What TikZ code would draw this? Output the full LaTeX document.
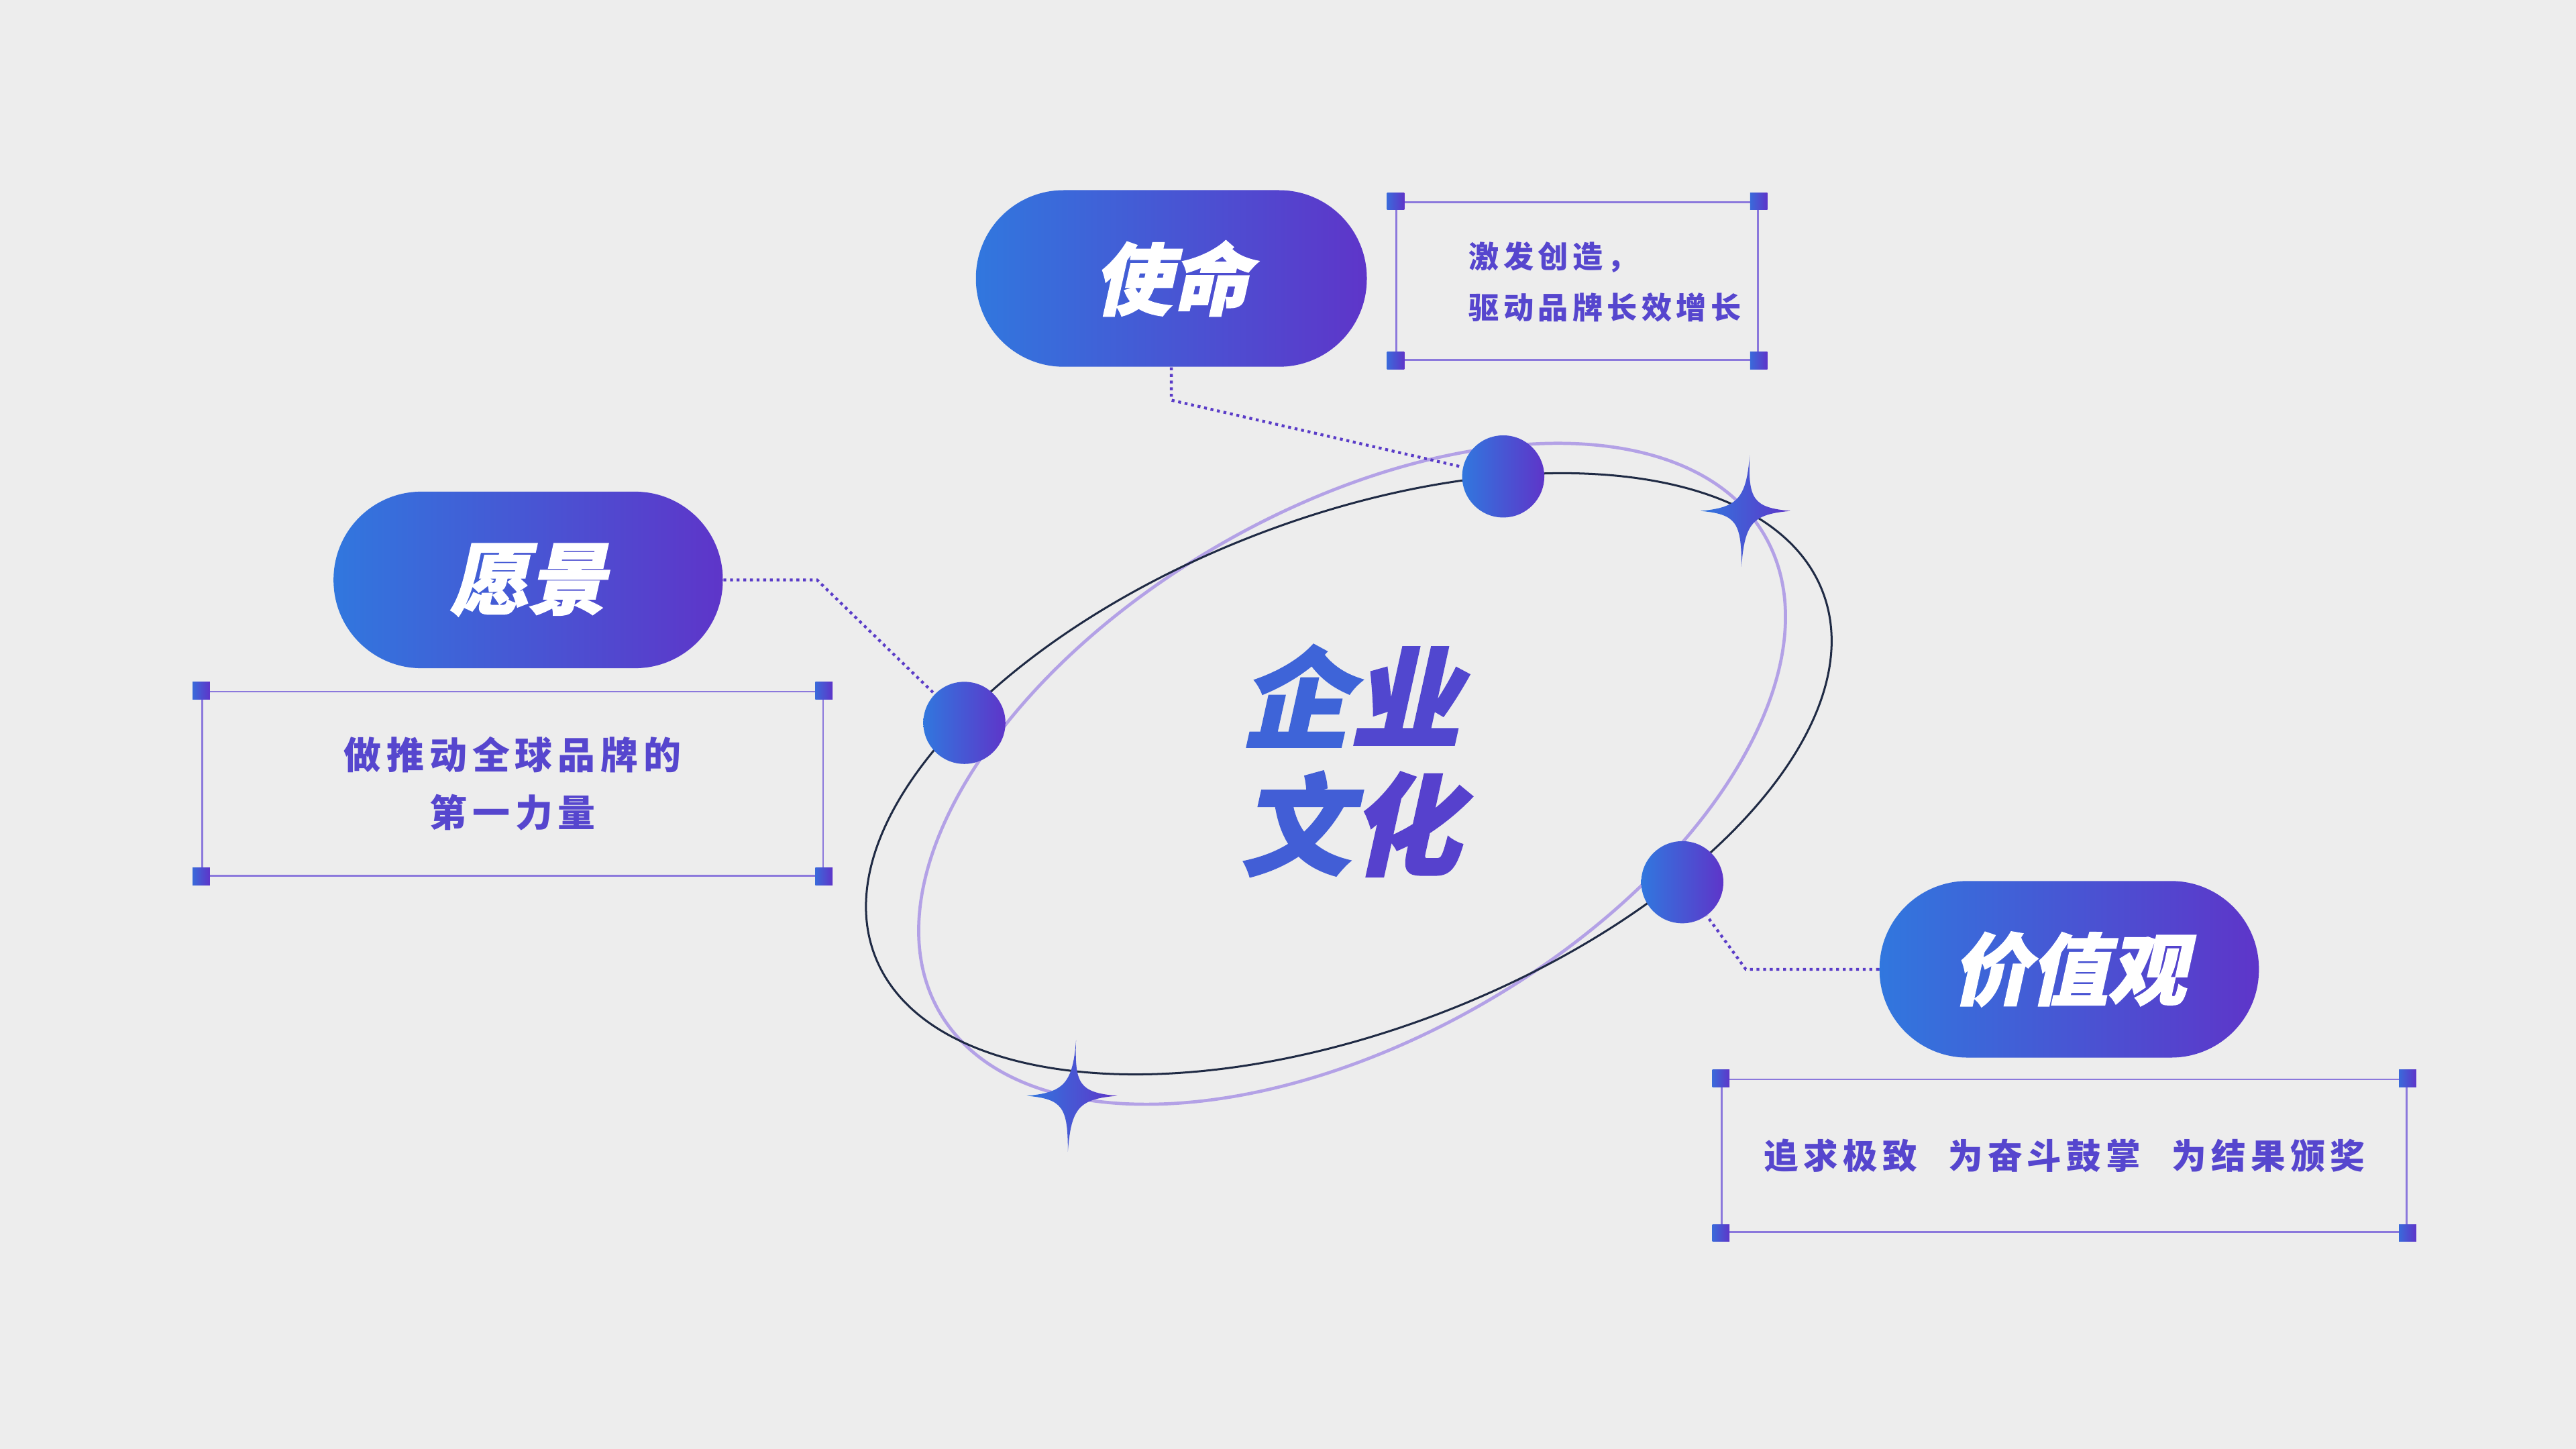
\documentclass[tikz,border=0pt]{standalone}
\usepackage{fontspec}
\usepackage{tikz}
\usetikzlibrary{positioning}
\newfontfamily\cjk[LetterSpace=14]{Noto Sans CJK SC}
\newfontfamily\cjkhead[FakeSlant=0.22,BoldFeatures={FakeBold=1.6}]{Noto Sans CJK SC}
\definecolor{bgcol}{HTML}{EDEDED}
\definecolor{gradblue}{HTML}{3177DE}
\definecolor{gradpurple}{HTML}{5E35C9}
\definecolor{inkcol}{HTML}{5646CE}
\definecolor{framecol}{HTML}{8B78DC}
\definecolor{ringcol}{HTML}{B3A1E6}
\definecolor{orbitcol}{HTML}{1F2A44}
\definecolor{linkcol}{HTML}{5A3CC8}
\colorlet{titleA}{gradblue!72!gradpurple}
\colorlet{titleB}{gradblue!28!gradpurple}
\colorlet{titleC}{gradblue!62!gradpurple}
\colorlet{titleD}{gradblue!18!gradpurple}
\tikzset{
    every node/.style={font=\cjk},
    pill/.style={rounded corners=1.07cm,minimum height=2.15cm,inner sep=0pt,
        left color=gradblue,right color=gradpurple,text=white,
        font=\cjkhead\bfseries\fontsize{27}{30}\selectfont},
    planet/.style={circle,minimum size=1cm,inner sep=0pt,
        left color=gradblue,right color=gradpurple},
    textbox/.style={draw=framecol,line width=0.6pt,inner sep=0pt,align=center,text=inkcol},
    corner/.style={minimum size=0.21cm,inner sep=0pt,left color=gradblue!80!gradpurple,right color=gradpurple},
    link/.style={linkcol,line width=1pt,dash pattern=on 1pt off 1.3pt},
    sparkle/.pic={
        \shade[left color=gradblue,right color=gradpurple]
            (3,-34) .. controls (2,-7) and (5,-2) .. (28,0)
            .. controls (5,2) and (0,7) .. (-2,34)
            .. controls (-2,7) and (-5,2) .. (-27,0)
            .. controls (-5,-2) and (1,-7) .. (3,-34) -- cycle;
    }
}

\begin{document}
\begin{tikzpicture}[x=0.02cm,y=-0.02cm]

    \fill[bgcol] (0,0) rectangle (1568,882);
    \useasboundingbox (0,0) rectangle (1568,882);

    % orbits
    \draw[ringcol,line width=1.1pt,rotate around={30:(823,471)}] (823,471) ellipse [x radius=290,y radius=161];
    \draw[orbitcol,line width=0.7pt,rotate around={21:(821,471)}] (821,471) ellipse [x radius=309,y radius=156];

    % centre title
    \node[align=center,font=\cjkhead\bfseries\fontsize{38}{44}\selectfont] (culture) at (822,463)
        {\textcolor{titleA}{企}\textcolor{titleB}{业}\\\textcolor{titleC}{文}\textcolor{titleD}{化}};

    \node[pill,minimum width=4.76cm] (mission) at (713,169.5) {使命};
    \node[pill,minimum width=4.74cm] (vision) at (321.5,353) {愿景};
    \node[pill,minimum width=4.62cm] (values) at (1259.5,590) {价值观};

    \node[planet] (dotm) at (915,290) {};
    \node[planet] (dotv) at (587,440) {};
    \node[planet] (dotval) at (1024,537) {};

    \draw[link] (mission.south) -- ++(0,20) -- (dotm);
    \draw[link] (vision.east) -- ++(57,0) -- (dotv);
    \draw[link] (values.west) -- ++(-81,0) -- (dotval);

    \pic (starne) at (1062,311) {sparkle};
    \pic (starsw) at (652,667) {sparkle};

    % text boxes
    \node[textbox,minimum width=4.4cm,minimum height=1.92cm] (missionbox) at (960,171) {};
    \node[anchor=west,align=left,text=inkcol,font=\cjk\bfseries\fontsize{10.5}{17.6}\selectfont]
        (missiontext) at (888,171.5) {激发创造，\\驱动品牌长效增长};
    \node[textbox,minimum width=7.56cm,minimum height=2.24cm,font=\cjk\bfseries\fontsize{13}{20.2}\selectfont]
        (visionbox) at (312,477) {做推动全球品牌的\\第一力量};
    \node[textbox,minimum width=8.34cm,minimum height=1.86cm,font=\cjk\bfseries\fontsize{12}{14}\selectfont]
        (valuesbox) at (1256.5,703.5) {追求极致\hspace{0.9em}为奋斗鼓掌\hspace{0.9em}为结果颁奖};

    \foreach \b in {missionbox,visionbox,valuesbox}
        \foreach \c in {north west,north east,south west,south east}
            \node[corner] at (\b.\c) {};

\end{tikzpicture}
\end{document}
